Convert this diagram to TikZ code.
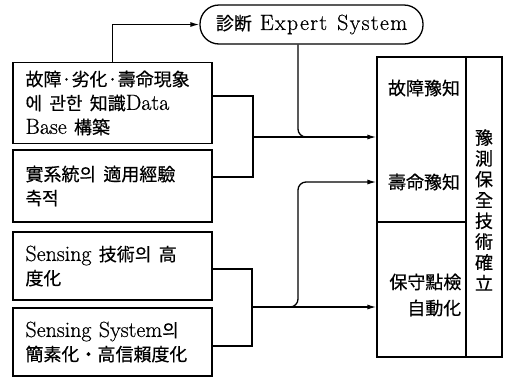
\documentclass[tikz,border=0pt]{standalone}
\usepackage{fontspec}
\setmainfont{Latin Modern Roman}[Scale=1.22, FakeBold=0.6]
\newfontfamily\kr{Noto Sans CJK KR}[FakeBold=0.5]
\usetikzlibrary{arrows.meta,calc}
\begin{document}
\begin{tikzpicture}[x=1pt,y=-1pt, line width=1.3pt,
  lbox/.style={draw, rectangle, minimum width=199pt, text width=174pt, align=left,
    inner xsep=12.5pt, font=\fontsize{18}{24}\selectfont},
  rpart/.style={draw, rectangle, inner sep=0pt},
  rtext/.style={font=\kr\fontsize{18}{26}\selectfont, inner sep=0pt},
  arr/.style={-{Latex[length=9pt,width=5pt]}}]
\useasboundingbox (0,0) rectangle (508,389);

% left boxes
\node[lbox, minimum height=81pt] (b1) at (112.5,103)
  {{\kr 故障·劣化·壽命現象}\\{\kr 에 관한 知識}Data\\Base {\kr 構築}};
\node[lbox, minimum height=72pt] (b2) at (112.5,186)
  {{\kr 實系統의 適用經驗}\\{\kr 축적}};
\node[lbox, minimum height=68pt] (b3) at (112.5,266)
  {Sensing {\kr 技術의 高}\\{\kr 度化}};
\node[lbox, minimum height=68pt] (b4) at (112.5,342)
  {Sensing System{\kr 의}\\{\kr 簡素化・高信賴度化}};

% expert system
\node[draw, rounded corners=19pt, minimum width=223pt, minimum height=39pt,
  font=\fontsize{18}{20}\selectfont] (es) at (311.5,24.5)
  {{\kr 診断}\hspace{8pt}{\addfontfeature{LetterSpace=6}Expert\hspace{10pt}System}};

% right block
\node[rpart, minimum width=89pt, minimum height=165pt] (ru) at (421.5,139.5) {};
\node[rpart, minimum width=89pt, minimum height=135pt] (rl) at (421.5,289.5) {};
\node[rpart, minimum width=36pt, minimum height=300pt] (rv) at (484,207) {};

\node[rtext] (t1) at (424,88) {故障豫知};
\node[rtext] (t2) at (424,182) {壽命豫知};
\node[rtext, align=right, anchor=east] (t3) at (462,295) {保守點檢\\自動化};
\node[rtext, align=center, font=\kr\fontsize{18}{20.8}\selectfont] (tv) at (484,210)
  {豫\\測\\保\\全\\技\\術\\確\\立};

% helper coordinates
\coordinate (y96) at (0,96);
\coordinate (y177) at (0,177);
\coordinate (y269) at (0,269);
\coordinate (y346) at (0,346);
\coordinate (x298) at (298,0);
\coordinate (j1) at (253,137);
\coordinate (j1e) at (330,137);
\coordinate (j2) at (252,307);
\coordinate (j2e) at (280,307);

% connectors
\draw[arr] (b1.north) |- (es.west);
\draw (b1.east |- y96) -- (j1 |- y96) -- (j1 |- y177) -- (b2.east |- y177);
\draw[arr] (j1) -- (ru.west |- j1);
\draw[rounded corners=8pt] (es.south -| x298) -- (x298 |- j1) -- (j1e);

\draw (b3.east |- y269) -- (j2 |- y269) -- (j2 |- y346) -- (b4.east |- y346);
\draw[arr] (j2) -- (rl.west |- j2);
\draw[arr, rounded corners=8pt] (j2e) -- (x298 |- j2) -- (x298 |- t2) -- (ru.west |- t2);
\end{tikzpicture}
\end{document}
